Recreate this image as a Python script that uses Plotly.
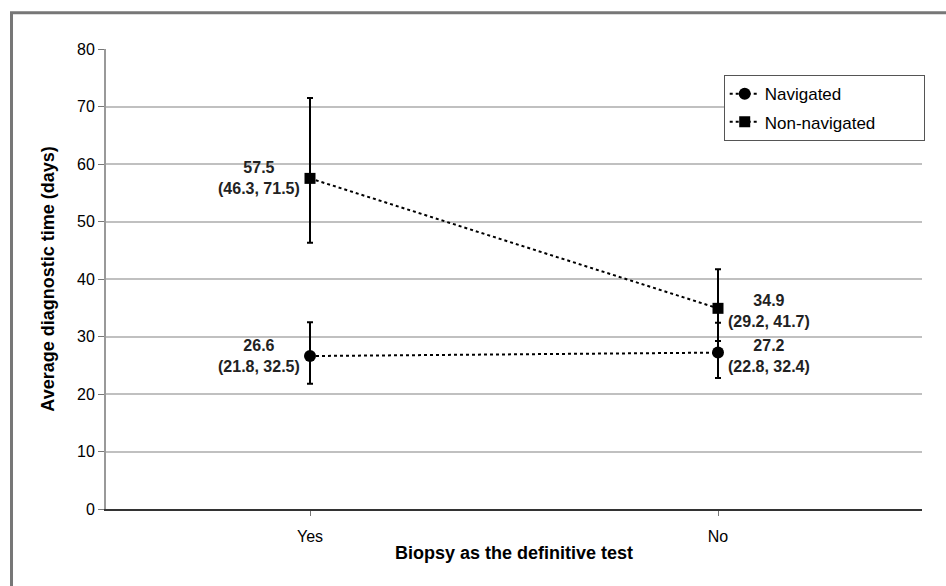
import plotly.graph_objects as go

categories = ["Yes", "No"]
nav_mean = [26.6, 27.2]
nav_low = [21.8, 22.8]
nav_high = [32.5, 32.4]
non_mean = [57.5, 34.9]
non_low = [46.3, 29.2]
non_high = [71.5, 41.7]
y_ticks = [0, 10, 20, 30, 40, 50, 60, 70, 80]

FONT = "Liberation Sans, Arial, sans-serif"
PAD = "\u00a0" * 9

fig = go.Figure()


def add_series(name, mean, low, high, symbol, size):
    fig.add_trace(go.Scatter(
        x=categories, y=mean, name=name + PAD, mode="lines+markers",
        legendgroup=name,
        line=dict(color="black", width=2, dash="dot"),
        marker=dict(symbol=symbol, size=size, color="black"),
        error_y=dict(type="data", symmetric=False,
                     array=[h - m for h, m in zip(high, mean)],
                     arrayminus=[m - l for m, l in zip(mean, low)],
                     color="black", thickness=2, width=3),
    ))


add_series("Navigated", nav_mean, nav_low, nav_high, "circle", 12)
add_series("Non-navigated", non_mean, non_low, non_high, "square", 11)

for means, lows, highs in [(nav_mean, nav_low, nav_high), (non_mean, non_low, non_high)]:
    for i, cat in enumerate(categories):
        left = i == 0
        fig.add_annotation(
            x=cat, y=means[i],
            text=f"<b>{means[i]}<br>({lows[i]}, {highs[i]})</b>",
            showarrow=False, align="center",
            xanchor="right" if left else "left",
            xshift=-8 if left else 8,
            yshift=0 if left else -3,
            font=dict(family=FONT, size=16, color="#222"),
        )

# outer frame
fig.add_shape(type="rect", xref="paper", yref="paper",
              x0=-0.1158, x1=1.2, y0=-0.5, y1=1.0786,
              line=dict(color="#777", width=3), layer="below")

fig.update_layout(
    width=946, height=586,
    margin=dict(l=106, r=24, t=49, b=77, autoexpand=False),
    paper_bgcolor="white", plot_bgcolor="white",
    font=dict(family=FONT, size=15, color="black"),
    showlegend=True,
    legend=dict(x=0.757, y=0.943, xanchor="left", yanchor="top",
                bordercolor="#555", borderwidth=1, bgcolor="white",
                font=dict(size=17, family=FONT),
                itemwidth=30, tracegroupgap=3),
    xaxis=dict(
        title=dict(text="<b>Biopsy as the definitive test</b>",
                   font=dict(size=18, family=FONT), standoff=2),
        showline=True, linecolor="#333", linewidth=2,
        ticks="outside", ticklen=5, tickcolor="#777",
        ticklabelstandoff=7,
        showgrid=False, range=[-0.5, 1.5],
        tickfont=dict(size=16), automargin=False,
    ),
    yaxis=dict(
        title=dict(text="<b>Average diagnostic time (days)</b>",
                   font=dict(size=18, family=FONT), standoff=18),
        range=[0, 80], tickvals=y_ticks,
        showline=True, linecolor="#999", linewidth=2,
        ticks="outside", ticklen=6, tickcolor="#777",
        showgrid=True, gridcolor="#c0c0c0", gridwidth=1.5,
        zeroline=False, tickfont=dict(size=16), automargin=False,
    ),
)

fig.write_html("out.html", config={"displayModeBar": False},
               post_script="document.body.style.margin='0';document.body.style.overflow='hidden';")
